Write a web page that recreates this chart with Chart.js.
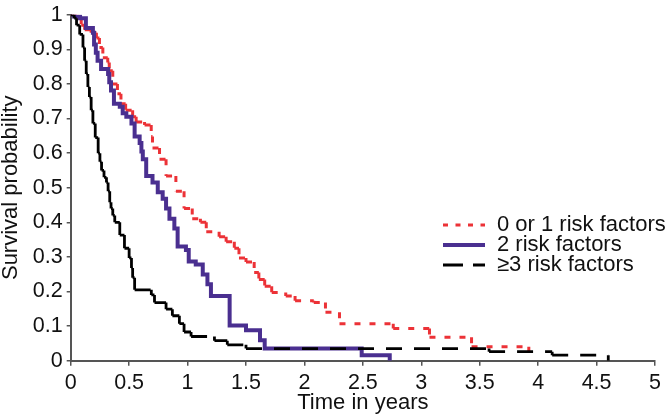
<!DOCTYPE html>
<html>
<head>
<meta charset="utf-8">
<script src="https://cdn.jsdelivr.net/npm/chart.js@4/dist/chart.umd.min.js"></script>
<style>
    html, body { margin: 0; padding: 0; background: #fff; }
    #wrap { width: 668px; height: 420px; position: relative; }
</style>
</head>
<body>
<div id="wrap"><canvas id="graficoSobrevida"></canvas></div>
<script>
// Kaplan-Meier curves: time of each drop (years) and survival right after it
const lowTime = [0, 0.06, 0.09, 0.12, 0.175, 0.22, 0.246, 0.275, 0.317, 0.33, 0.36, 0.40, 0.43, 0.47, 0.53, 0.56, 0.632, 0.689, 0.70, 0.76, 0.816, 0.90, 0.97, 1.04, 1.11, 1.16, 1.27, 1.33, 1.40, 1.44, 1.50, 1.57, 1.61, 1.66, 1.72, 1.84, 1.92, 2.08, 2.18, 2.30, 2.76, 3.07, 3.43, 3.92];
const lowSurv = [1, 0.99, 0.97, 0.957, 0.948, 0.933, 0.905, 0.876, 0.862, 0.838, 0.80, 0.772, 0.743, 0.724, 0.705, 0.69, 0.681, 0.648, 0.615, 0.582, 0.534, 0.49, 0.44, 0.41, 0.40, 0.373, 0.358, 0.344, 0.325, 0.297, 0.285, 0.255, 0.235, 0.215, 0.197, 0.187, 0.173, 0.168, 0.14, 0.107, 0.093, 0.068, 0.04, 0.026];

const midTime = [0, 0.03, 0.08, 0.13, 0.19, 0.20, 0.215, 0.23, 0.26, 0.32, 0.33, 0.345, 0.37, 0.42, 0.445, 0.476, 0.52, 0.547, 0.59, 0.605, 0.617, 0.646, 0.70, 0.745, 0.787, 0.816, 0.845, 0.887, 0.915, 0.986, 1.01, 1.07, 1.13, 1.17, 1.20, 1.36, 1.50, 1.62, 1.66, 2.49, 2.73];
const midSurv = [1, 0.995, 0.99, 0.962, 0.948, 0.914, 0.89, 0.867, 0.843, 0.829, 0.805, 0.781, 0.743, 0.734, 0.715, 0.705, 0.686, 0.648, 0.629, 0.605, 0.582, 0.534, 0.515, 0.487, 0.468, 0.44, 0.41, 0.382, 0.33, 0.32, 0.287, 0.278, 0.249, 0.221, 0.187, 0.102, 0.088, 0.059, 0.035, 0.016, 0];

const highTime = [0, 0.03, 0.05, 0.077, 0.105, 0.119, 0.133, 0.147, 0.16, 0.175, 0.19, 0.21, 0.235, 0.25, 0.264, 0.285, 0.306, 0.32, 0.334, 0.345, 0.36, 0.377, 0.42, 0.46, 0.50, 0.52, 0.53, 0.547, 0.69, 0.717, 0.816, 0.87, 0.93, 0.97, 1.03, 1.23, 1.34, 1.50, 3.58, 4.12, 4.60];
const highSurv = [1, 0.99, 0.97, 0.943, 0.905, 0.867, 0.829, 0.791, 0.762, 0.724, 0.686, 0.645, 0.60, 0.575, 0.55, 0.53, 0.515, 0.49, 0.458, 0.44, 0.42, 0.40, 0.363, 0.325, 0.297, 0.268, 0.24, 0.205, 0.19, 0.168, 0.149, 0.13, 0.107, 0.083, 0.07, 0.058, 0.046, 0.035, 0.026, 0.016, 0];

const seriesNames = ["0 or 1 risk factors", "2 risk factors", "\u22653 risk factors"];
const xTicks = [0, 0.5, 1, 1.5, 2, 2.5, 3, 3.5, 4, 4.5, 5];
const xTickLabels = ["0", "0.5", "1", "1.5", "2", "2.5", "3", "3.5", "4", "4.5", "5"];
const yTicks = [0, 0.1, 0.2, 0.3, 0.4, 0.5, 0.6, 0.7, 0.8, 0.9, 1];
const yTickLabels = ["0", "0.1", "0.2", "0.3", "0.4", "0.5", "0.6", "0.7", "0.8", "0.9", "1"];

// staircase: horizontal run, then the drop, each as its own piece
function escada(tempos, sobrevida) {
    const pts = [{ x: tempos[0], y: sobrevida[0] }];
    for (let i = 1; i < tempos.length; i++) {
        pts.push({ x: tempos[i], y: sobrevida[i - 1] });
        pts.push({ x: tempos[i], y: sobrevida[i] });
    }
    return pts;
}

// alternate a tiny offset so every piece is stroked apart and its dash restarts
const reiniciaTraco = { borderDashOffset: ctx => (ctx.p0DataIndex % 2) * 0.01 };

const legenda = {
    id: "legenda",
    afterDatasetsDraw(chart) {
        const ctx = chart.ctx;
        const tracos = [[5, 7.5], [], [20, 10]];
        chart.data.datasets.forEach((ds, i) => {
            const y = 225 + i * 20;
            ctx.save();
            ctx.strokeStyle = ds.borderColor;
            ctx.lineWidth = ds.borderWidth;
            ctx.setLineDash(tracos[i]);
            ctx.beginPath();
            ctx.moveTo(443, y);
            ctx.lineTo(485, y);
            ctx.stroke();
            ctx.setLineDash([]);
            ctx.fillStyle = "#111";
            ctx.font = "22px 'Liberation Sans', Arial, sans-serif";
            ctx.textBaseline = "middle";
            ctx.fillText(ds.label, 497, y);
            ctx.restore();
        });
    }
};

Chart.defaults.font.family = "'Liberation Sans', Arial, sans-serif";
Chart.defaults.color = "#111";

new Chart(document.getElementById("graficoSobrevida"), {
    type: "line",
    data: {
        datasets: [{
            label: seriesNames[0],
            data: escada(lowTime, lowSurv),
            borderColor: "#ec3237",
            borderWidth: 3,
            borderDash: [6, 9],
            segment: reiniciaTraco,
            order: 2
        }, {
            label: seriesNames[1],
            data: escada(midTime, midSurv),
            borderColor: "#4a2f90",
            borderWidth: 4,
            order: 1
        }, {
            label: seriesNames[2],
            data: escada(highTime, highSurv),
            borderColor: "#000000",
            borderWidth: 2.8,
            borderDash: [16, 12],
            segment: reiniciaTraco,
            order: 0
        }]
    },
    options: {
        responsive: true,
        maintainAspectRatio: false,
        animation: false,
        elements: {
            point: { radius: 0 },
            line: { tension: 0, fill: false, borderCapStyle: "butt" }
        },
        layout: { padding: { top: 10.7, right: 9, left: 0, bottom: 0 } },
        plugins: {
            legend: { display: false },
            tooltip: { enabled: false }
        },
        scales: {
            x: {
                type: "linear",
                min: 0,
                max: 5,
                afterBuildTicks: s => { s.ticks = xTicks.map(v => ({ value: v })); },
                afterFit: s => { s.height = 59.3; },
                grid: { drawOnChartArea: false, tickLength: 5, color: "#555", lineWidth: 1.5 },
                border: { color: "#555", width: 2 },
                ticks: {
                    font: { size: 21.5, lineHeight: 1 },
                    padding: 7,
                    maxRotation: 0,
                    callback: (v, i) => xTickLabels[i]
                },
                title: {
                    display: true,
                    text: "Time in years",
                    font: { size: 22, lineHeight: 1 },
                    padding: { top: 0, bottom: 6 }
                }
            },
            y: {
                min: 0,
                max: 1,
                afterBuildTicks: s => { s.ticks = yTicks.map(v => ({ value: v })); },
                afterFit: s => { s.width = 70.7; },
                grid: { drawOnChartArea: false, tickLength: 4, color: "#555", lineWidth: 1.5 },
                border: { color: "#555", width: 2 },
                ticks: {
                    font: { size: 21.5, lineHeight: 1 },
                    padding: 4,
                    callback: (v, i) => yTickLabels[i]
                },
                title: {
                    display: true,
                    text: "Survival probability",
                    font: { size: 22, lineHeight: 1 },
                    padding: { top: 0, bottom: 0 }
                }
            }
        }
    },
    plugins: [legenda]
});
</script>
</body>
</html>
